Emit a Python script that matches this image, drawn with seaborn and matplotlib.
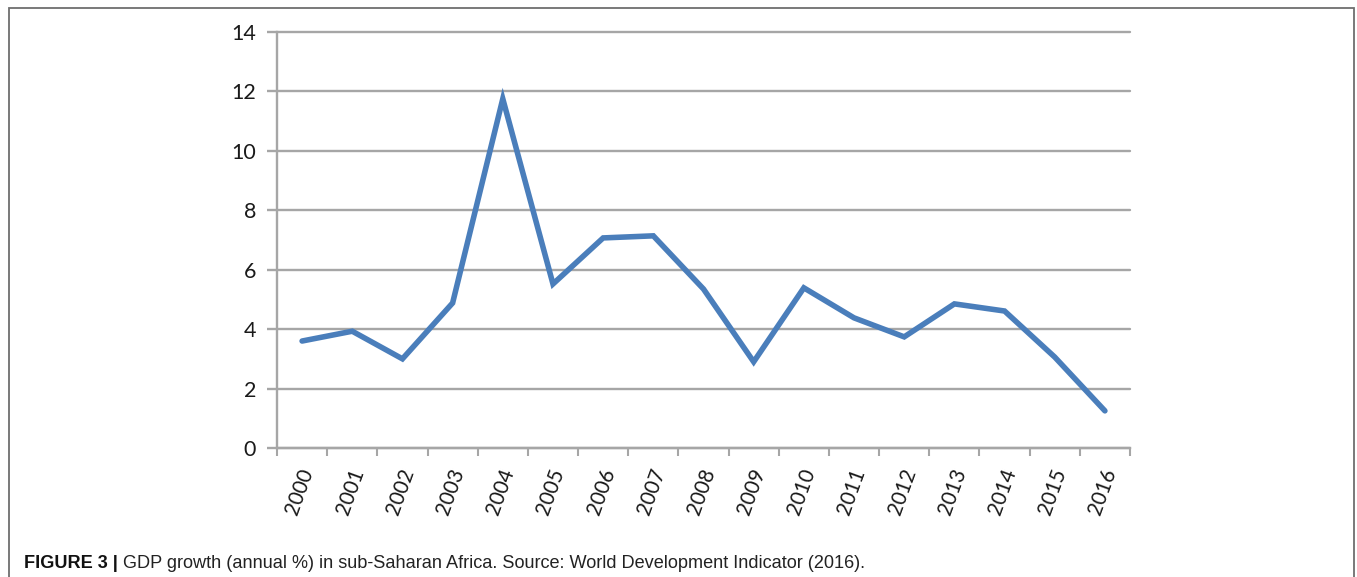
import matplotlib
matplotlib.use("Agg")
import matplotlib.pyplot as plt
import matplotlib.patches as mpatches
import matplotlib.transforms as mtransforms
import numpy as np
import pandas as pd
import seaborn as sns

years = ["2000", "2001", "2002", "2003", "2004", "2005", "2006", "2007", "2008",
         "2009", "2010", "2011", "2012", "2013", "2014", "2015", "2016"]
gdp_growth = [3.6, 3.93, 3.0, 4.88, 11.75, 5.52, 7.07, 7.14, 5.35,
              2.9, 5.39, 4.38, 3.74, 4.85, 4.61, 3.06, 1.25]
y_ticks = [0, 2, 4, 6, 8, 10, 12, 14]
caption_bold = "FIGURE 3 |"
caption_text = " GDP growth (annual %) in sub-Saharan Africa. Source: World Development Indicator (2016)."

sns.set_theme(style="white")
plt.rcParams["font.family"] = ["Lato", "DejaVu Sans"]

W, H = 1357, 577
fig = plt.figure(figsize=(W / 100, H / 100), dpi=100)
ax = fig.add_axes([277 / W, 1 - 448 / H, (1130 - 277) / W, (448 - 32) / H])

df = pd.DataFrame({"idx": np.arange(len(years)), "gdp": gdp_growth})
sns.lineplot(data=df, x="idx", y="gdp", ax=ax, color="#4a7ebb", linewidth=4.0,
             solid_joinstyle="miter", solid_capstyle="round")

grid_c = "#a6a6a6"
ax.set_xlim(-0.5, len(years) - 0.5)
ax.set_ylim(0, 14)
ax.set_yticks(y_ticks)
ax.set_yticklabels([str(v) for v in y_ticks], fontsize=15.5, color="#1a1a1a")
ax.yaxis.grid(True, color=grid_c, linewidth=1.7)
for gl in ax.get_ygridlines():
    gl.set_clip_on(False)
ax.xaxis.grid(False)
ax.set_axisbelow(True)

# category boundary ticks (major) and labels at centres (minor)
ax.set_xticks(np.arange(-0.5, len(years) + 0.5, 1.0))
ax.set_xticklabels([])
ax.set_xticks(np.arange(len(years)), minor=True)
ax.set_xticklabels(years, minor=True, rotation=70, fontsize=14.8, color="#1a1a1a",
                   ha="right", va="center", rotation_mode="anchor")
ax.tick_params(axis="x", which="major", direction="out", length=6, width=1.5,
               color=grid_c, bottom=True)
ax.tick_params(axis="x", which="minor", length=0, pad=15, bottom=True)
ax.tick_params(axis="y", direction="out", length=7, width=1.7, color=grid_c,
               left=True, pad=8)
offset = mtransforms.ScaledTranslation(6 / 100, 0, fig.dpi_scale_trans)
for lab in ax.get_xticklabels(minor=True):
    lab.set_transform(lab.get_transform() + offset)

for s in ["top", "right"]:
    ax.spines[s].set_visible(False)
for s in ["left", "bottom"]:
    ax.spines[s].set_color(grid_c)
    ax.spines[s].set_linewidth(1.7)
ax.set_xlabel("")
ax.set_ylabel("")

# outer frame
frame = mpatches.Rectangle((9 / W, -0.05), (1354 - 9) / W, 1 - 8 / H + 0.05,
                           transform=fig.transFigure, fill=False,
                           edgecolor="#6e6e6e", linewidth=1.3)
fig.patches.append(frame)

cap_fs = 13.1
t1 = fig.text(24 / W, 1 - 563 / H, caption_bold, fontsize=cap_fs, fontweight="bold",
              family=["Liberation Sans", "DejaVu Sans"], va="center", ha="left",
              color="#111111")
fig.canvas.draw()
bb = t1.get_window_extent()
fig.text(bb.x1 / W, 1 - 563 / H, caption_text, fontsize=cap_fs,
         family=["Liberation Sans", "DejaVu Sans"], va="center", ha="left",
         color="#222222")

fig.savefig("out.png", dpi=100)
